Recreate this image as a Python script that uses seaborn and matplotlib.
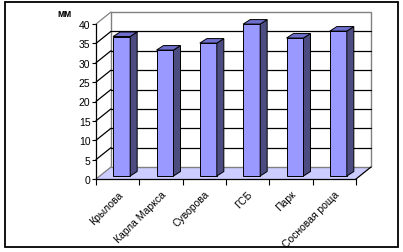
import numpy as np
import pandas as pd
import seaborn as sns
import matplotlib
matplotlib.use("Agg")
import matplotlib.pyplot as plt
from matplotlib.patches import Polygon, Rectangle
from matplotlib.lines import Line2D
from matplotlib.transforms import Affine2D, IdentityTransform

categories = ["Крылова", "Карла Маркса", "Суворова", "ГСБ", "Парк", "Сосновая роща"]
values = [36.0, 32.5, 34.3, 39.2, 35.6, 37.4]
y_ticks = [0, 5, 10, 15, 20, 25, 30, 35, 40]
unit_label = "мм"

sns.set_style("white")
plt.rcParams["font.family"] = ["Liberation Sans", "DejaVu Sans"]

W, H = 403, 253
fig = plt.figure(figsize=(W / 100, H / 100), dpi=100)
ax = fig.add_axes([96 / W, 73 / H, 260 / W, 155 / H])

df = pd.DataFrame({"cat": categories, "val": values})
sns.barplot(data=df, x="cat", y="val", color="#9999FF", saturation=1,
            width=0.392, edgecolor="black", linewidth=0.7, ax=ax, zorder=5)
ax.set_ylim(0, 40)
ax.set_xlim(-0.5, 5.5)
ax.patch.set_visible(False)
for s in ["top", "right"]:
    ax.spines[s].set_visible(False)
for s in ["left", "bottom"]:
    ax.spines[s].set_color("black")
    ax.spines[s].set_linewidth(0.9)
    ax.spines[s].set_zorder(6)
ax.set_xlabel("")
ax.set_ylabel("")

ax.set_yticks(y_ticks)
ax.set_yticklabels([str(t) for t in y_ticks], fontsize=7.5)
ax.tick_params(axis="y", direction="out", length=3, width=0.8, pad=1, left=True, colors="black")
ax.set_xticks(range(len(categories)))
ax.set_xticklabels(categories, rotation=45, ha="right", rotation_mode="anchor", fontsize=7.5)
ax.tick_params(axis="x", which="major", length=0, pad=7, colors="black")
ax.set_xticks(np.arange(-0.5, len(categories), 1.0), minor=True)
ax.tick_params(axis="x", which="minor", direction="out", length=4, width=0.8, bottom=True, color="black")

idt = IdentityTransform()
def P(x, y):
    return np.array(ax.transData.transform((x, y)))

DX, DY = 15, 12
off = np.array([DX, DY])
x0, x1 = -0.5, len(categories) - 0.5

# floor
fl = [P(x0, 0), P(x1, 0), P(x1, 0) + off, P(x0, 0) + off]
ax.add_patch(Polygon(fl, closed=True, facecolor="#CCCCFF", edgecolor="none",
                     transform=idt, clip_on=False, zorder=1))
ax.add_line(Line2D([fl[1][0], fl[2][0]], [fl[1][1], fl[2][1]], color="black", lw=0.9,
                   transform=idt, clip_on=False, zorder=2))
# back wall
bl = P(x0, 0) + off
tr = P(x1, 40) + off
ax.add_patch(Rectangle(bl, tr[0] - bl[0], tr[1] - bl[1], facecolor="white",
                       edgecolor="#808080", lw=1.0, transform=idt, clip_on=False, zorder=1))
for t in y_ticks:
    a = P(x0, t)
    b = a + off
    c = P(x1, t) + off
    col = "#808080" if t in (0, 40) else "black"
    ax.add_line(Line2D([a[0], b[0]], [a[1], b[1]], color=col, lw=0.9,
                       transform=idt, clip_on=False, zorder=2))
    if t not in (0, 40):
        ax.add_line(Line2D([b[0], c[0]], [b[1], c[1]], color="black", lw=0.9,
                           transform=idt, clip_on=False, zorder=2))

# 3D bars
BX, BY = 4, 3
bdx, bdy = 7, 4.5
shift = Affine2D().translate(BX, BY)
for p in ax.patches:
    if not isinstance(p, Rectangle) or p.get_width() >= 1 or p.get_zorder() != 5:
        continue
    xl, w, h = p.get_x(), p.get_width(), p.get_height()
    p.set_transform(ax.transData + shift)
    lb = P(xl, 0) + [BX, BY]
    rt = P(xl + w, h) + [BX, BY]
    side = [(rt[0], lb[1]), (rt[0], rt[1]), (rt[0] + bdx, rt[1] + bdy), (rt[0] + bdx, lb[1] + bdy)]
    top = [(lb[0], rt[1]), (rt[0], rt[1]), (rt[0] + bdx, rt[1] + bdy), (lb[0] + bdx, rt[1] + bdy)]
    ax.add_patch(Polygon(side, closed=True, facecolor="#4C4C80", edgecolor="black", lw=0.7,
                         transform=idt, clip_on=False, zorder=5))
    ax.add_patch(Polygon(top, closed=True, facecolor="#6E6ECC", edgecolor="black", lw=0.7,
                         transform=idt, clip_on=False, zorder=5))

fig.text(65 / W, 1 - 14 / H, unit_label, fontsize=7, fontweight="bold", ha="center", va="center", color="black")

fig.add_artist(Rectangle((4.5 / W, 5 / H), 393 / W, 245 / H, transform=fig.transFigure,
                         fill=False, edgecolor="black", lw=1.3))

fig.savefig("out.png", dpi=100)
